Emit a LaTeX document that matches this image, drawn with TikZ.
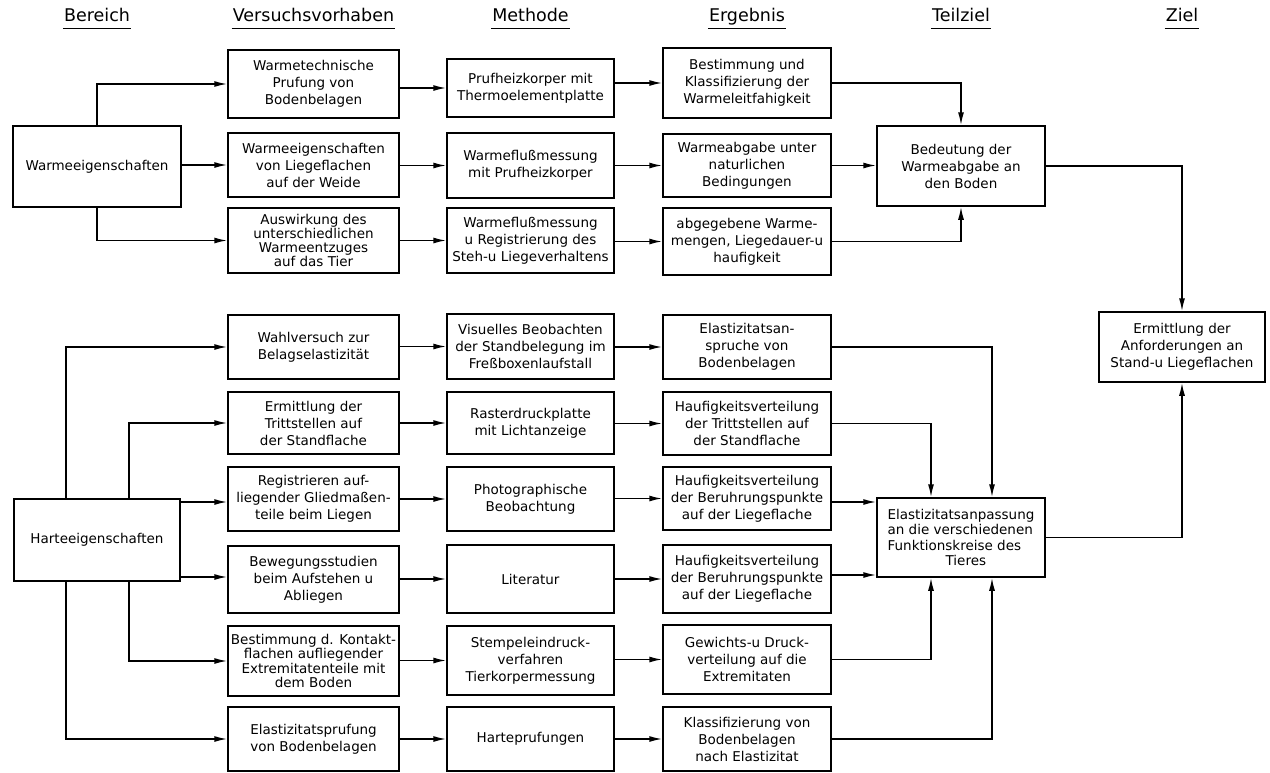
\documentclass[tikz,border=0pt]{standalone}
\usepackage{fontspec}
\setmainfont{DejaVu Sans}
\usetikzlibrary{arrows.meta}
\newcommand\boxfont{\fontsize{13.5}{17}\selectfont}
\newcommand\tightfont{\fontsize{13.5}{14.2}\selectfont}
\newcommand\headfont{\fontsize{17.5}{20}\selectfont}
\begin{document}
\begin{tikzpicture}[x=1pt,y=-1pt,
  bx/.style={draw, line width=1.5pt, fill=white, align=center, inner sep=1pt, font=\boxfont},
  arr/.style={line width=1.5pt, -{Latex[length=13pt,width=6pt]}},
  hd/.style={font=\headfont, inner sep=1pt, text height=13pt, text depth=4pt},
  ul/.style={line width=1.7pt}]
\fill[white] (0,0) rectangle (1270,772);
\useasboundingbox (0,0) rectangle (1270,772);

% headers
\node[hd] (h1) at (97,17) {Bereich};
\node[hd] (h2) at (313.5,17) {Versuchsvorhaben};
\node[hd] (h3) at (530.5,17) {Methode};
\node[hd] (h4) at (747,17) {Ergebnis};
\node[hd] (h5) at (961,17) {Teilziel};
\node[hd] (h6) at (1182,17) {Ziel};
\coordinate (ulY) at (0,28.5);
\foreach \h in {h1,h2,h3,h4,h5,h6}
  \draw[ul] (\h.west |- ulY) -- (\h.east |- ulY);

% Bereich
\node[bx, minimum width=168pt, minimum height=81pt] (bw) at (97,166.5) {Warmeeigenschaften};
\node[bx, minimum width=166pt, minimum height=82pt] (bh) at (97,540) {Harteeigenschaften};

% Versuchsvorhaben
\node[bx, minimum width=171pt, minimum height=68pt] (vA) at (313.5,84) {Warmetechnische\\Prufung von\\Bodenbelagen};
\node[bx, minimum width=171pt, minimum height=64pt] (vB) at (313.5,165) {Warmeeigenschaften\\von Liegeflachen\\auf der Weide};
\node[bx, minimum width=171pt, minimum height=65pt, font=\tightfont] (vC) at (313.5,240.5) {Auswirkung des\\unterschiedlichen\\Warmeentzuges\\auf das Tier};
\node[bx, minimum width=171pt, minimum height=64pt] (v1) at (313.5,347) {Wahlversuch zur\\Belagselastizität};
\node[bx, minimum width=171pt, minimum height=62pt] (v2) at (313.5,423) {Ermittlung der\\Trittstellen auf\\der Standflache};
\node[bx, minimum width=171pt, minimum height=64pt] (v3) at (313.5,499) {Registrieren auf-\\liegender Gliedmaßen-\\teile beim Liegen};
\node[bx, minimum width=171pt, minimum height=67pt] (v4) at (313.5,579.5) {Bewegungsstudien\\beim Aufstehen u\\Abliegen};
\node[bx, minimum width=171pt, minimum height=70pt, font=\tightfont, inner xsep=0pt] (v5) at (313.5,661) {Bestimmung d. Kontakt-\\flachen aufliegender\\Extremitatenteile mit\\dem Boden};
\node[bx, minimum width=171pt, minimum height=64pt] (v6) at (313.5,739) {Elastizitatsprufung\\von Bodenbelagen};

% Methode
\node[bx, minimum width=167pt, minimum height=58pt] (mA) at (530.5,88) {Prufheizkorper mit\\Thermoelementplatte};
\node[bx, minimum width=167pt, minimum height=65pt] (mB) at (530.5,165.5) {Warmeflußmessung\\mit Prufheizkorper};
\node[bx, minimum width=167pt, minimum height=65pt] (mC) at (530.5,240.5) {Warmeflußmessung\\u Registrierung des\\Steh-u Liegeverhaltens};
\node[bx, minimum width=167pt, minimum height=65pt] (m1) at (530.5,346.5) {Visuelles Beobachten\\der Standbelegung im\\Freßboxenlaufstall};
\node[bx, minimum width=167pt, minimum height=62pt] (m2) at (530.5,423) {Rasterdruckplatte\\mit Lichtanzeige};
\node[bx, minimum width=167pt, minimum height=64pt] (m3) at (530.5,499) {Photographische\\Beobachtung};
\node[bx, minimum width=167pt, minimum height=68pt] (m4) at (530.5,579) {Literatur};
\node[bx, minimum width=167pt, minimum height=69pt] (m5) at (530.5,660.5) {Stempeleindruck-\\verfahren\\Tierkorpermessung};
\node[bx, minimum width=167pt, minimum height=64pt] (m6) at (530.5,739) {Harteprufungen};

% Ergebnis
\node[bx, minimum width=168pt, minimum height=70pt] (eA) at (747,83) {Bestimmung und\\Klassifizierung der\\Warmeleitfahigkeit};
\node[bx, minimum width=168pt, minimum height=63pt] (eB) at (747,165.5) {Warmeabgabe unter\\naturlichen\\Bedingungen};
\node[bx, minimum width=168pt, minimum height=67pt] (eC) at (747,241.5) {abgegebene Warme-\\mengen, Liegedauer-u\\haufigkeit};
\node[bx, minimum width=168pt, minimum height=64pt] (e1) at (747,347) {Elastizitatsan-\\spruche von\\Bodenbelagen};
\node[bx, minimum width=168pt, minimum height=63pt] (e2) at (747,423.5) {Haufigkeitsverteilung\\der Trittstellen auf\\der Standflache};
\node[bx, minimum width=168pt, minimum height=63pt] (e3) at (747,498.5) {Haufigkeitsverteilung\\der Beruhrungspunkte\\auf der Liegeflache};
\node[bx, minimum width=168pt, minimum height=68pt] (e4) at (747,579) {Haufigkeitsverteilung\\der Beruhrungspunkte\\auf der Liegeflache};
\node[bx, minimum width=168pt, minimum height=69pt] (e5) at (747,659.5) {Gewichts-u Druck-\\verteilung auf die\\Extremitaten};
\node[bx, minimum width=168pt, minimum height=64pt] (e6) at (747,739) {Klassifizierung von\\Bodenbelagen\\nach Elastizitat};

% Teilziel
\node[bx, minimum width=168pt, minimum height=80pt] (tA) at (961,166) {Bedeutung der\\Warmeabgabe an\\den Boden};
\node[bx, minimum width=168pt, minimum height=79pt, align=left, font=\fontsize{13.5}{15.5}\selectfont] (tB) at (961,537.5) {Elastizitatsanpassung\\an die verschiedenen\\Funktionskreise des\\\hspace*{58pt}Tieres};

% Ziel
\node[bx, minimum width=166pt, minimum height=70pt] (Z) at (1182,347) {Ermittlung der\\Anforderungen an\\Stand-u Liegeflachen};

% helper coordinates
\coordinate (hx1) at (66,540);
\coordinate (hx2) at (129,540);
\coordinate (ta) at (931,537.5);
\coordinate (tb) at (992,537.5);

% Bereich -> Versuchsvorhaben
\draw[arr] (bw.north) |- (vA.west);
\draw[arr] (vB.west -| bw.east) -- (vB.west);
\draw[arr] (bw.south) |- (vC.west);
\draw[arr] (bh.north -| hx1) |- (v1.west);
\draw[arr] (bh.north -| hx2) |- (v2.west);
\draw[arr] ([yshift=-3pt]v3.west -| bh.east) -- ([yshift=-3pt]v3.west);
\draw[arr] ([yshift=2.5pt]v4.west -| bh.east) -- ([yshift=2.5pt]v4.west);
\draw[arr] (bh.south -| hx2) |- (v5.west);
\draw[arr] (bh.south -| hx1) |- (v6.west);

% Versuchsvorhaben -> Methode
\foreach \r in {A,B,C,1,2,3,4,5,6}
  \draw[arr] (m\r.west -| v\r.east) -- (m\r.west);

% Methode -> Ergebnis
\foreach \r in {A,B,C,1,2,3,4,5,6}
  \draw[arr] (e\r.west -| m\r.east) -- (e\r.west);

% Ergebnis -> Teilziel
\draw[arr] (eA.east) -| (tA.north);
\draw[arr] (eB.east) -- (eB.east -| tA.west);
\draw[arr] (eC.east) -| (tA.south);
\draw[arr] (e1.east) -| (tB.north -| tb);
\draw[arr] (e2.east) -| (tB.north -| ta);
\draw[arr] ([yshift=-3.5pt]e3.east) -- ([yshift=-3.5pt]e3.east -| tB.west);
\draw[arr] ([yshift=4pt]e4.east) -- ([yshift=4pt]e4.east -| tB.west);
\draw[arr] (e5.east) -| (tB.south -| ta);
\draw[arr] (e6.east) -| (tB.south -| tb);

% Teilziel -> Ziel
\draw[arr] (tA.east) -| (Z.north);
\draw[arr] (tB.east) -| (Z.south);
\end{tikzpicture}
\end{document}
